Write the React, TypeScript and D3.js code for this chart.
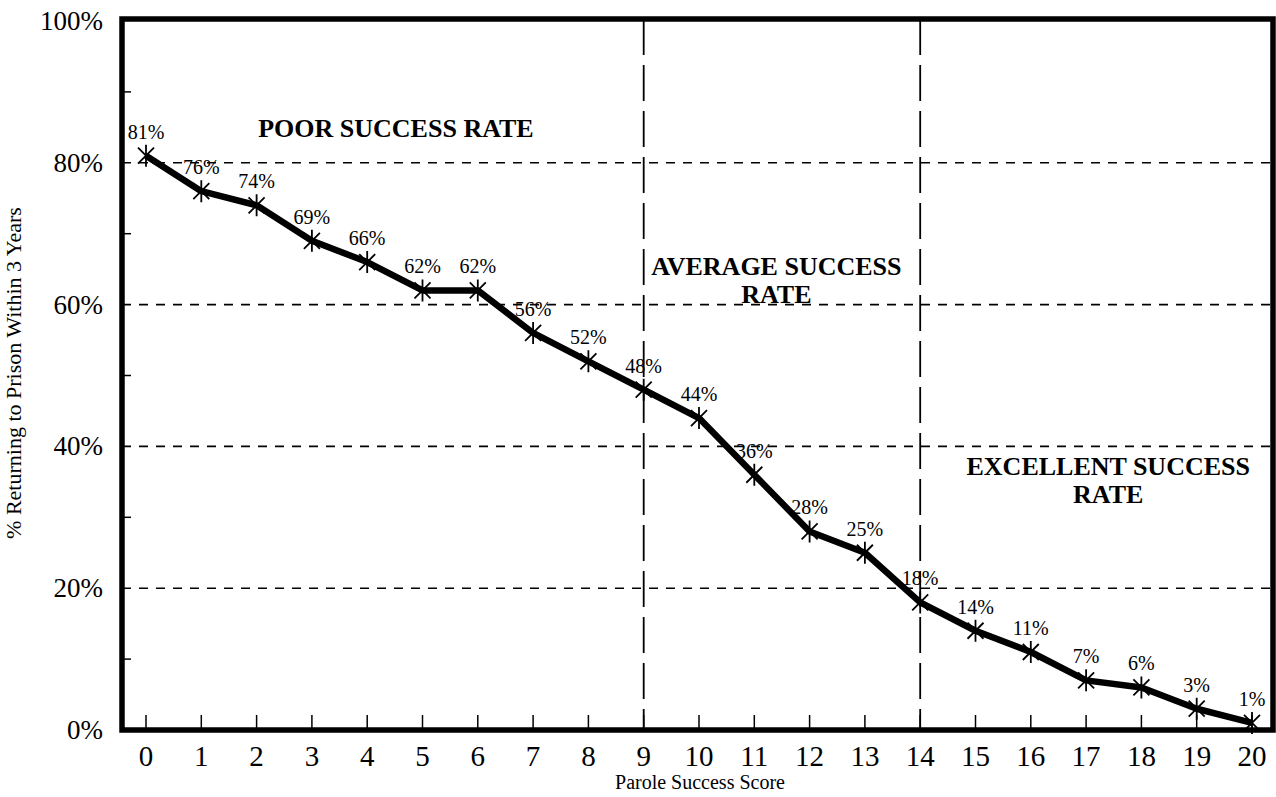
import * as d3 from 'd3';
import { useRef, useEffect } from 'react';

const scores = d3.range(0, 21);
const rates = [81, 76, 74, 69, 66, 62, 62, 56, 52, 48, 44, 36, 28, 25, 18, 14, 11, 7, 6, 3, 1];
const yTicks = [0, 20, 40, 60, 80, 100];
const yMinorTicks = [10, 30, 50, 70, 90];
const zoneBreaks = [9, 14];
const zoneLabels = [
  { lines: ['POOR SUCCESS RATE'], x: 4.52, y: 83.6 },
  { lines: ['AVERAGE SUCCESS', 'RATE'], x: 11.4, y: 64.2 },
  { lines: ['EXCELLENT SUCCESS', 'RATE'], x: 17.4, y: 36.0 },
];

const W = 1276;
const H = 797;
const FONT = '"Liberation Serif", "Times New Roman", serif';

const App = () => {
  const ref = useRef<SVGSVGElement>(null);

  useEffect(() => {
    const svg = d3.select(ref.current);
    svg.selectAll('*').remove();

    const frame = { left: 122, right: 1273, top: 19, bottom: 730 };
    const x = d3.scaleLinear().domain([0, 20]).range([146, 1252]);
    const y = d3.scaleLinear().domain([0, 100]).range([730, 21]);

    svg.append('rect').attr('width', W).attr('height', H).attr('fill', '#fff');

    // horizontal dashed grid lines
    svg
      .append('g')
      .selectAll('line')
      .data(yTicks.filter((d) => d > 0 && d < 100))
      .join('line')
      .attr('x1', frame.left)
      .attr('x2', frame.right)
      .attr('y1', (d) => y(d))
      .attr('y2', (d) => y(d))
      .attr('stroke', '#000')
      .attr('stroke-width', 1.6)
      .attr('stroke-dasharray', '9 8');

    // vertical zone separators
    svg
      .append('g')
      .selectAll('line')
      .data(zoneBreaks)
      .join('line')
      .attr('x1', (d) => x(d))
      .attr('x2', (d) => x(d))
      .attr('y1', frame.top)
      .attr('y2', frame.bottom)
      .attr('stroke', '#000')
      .attr('stroke-width', 1.8)
      .attr('stroke-dasharray', '36 10');

    // minor ticks on y axis
    svg
      .append('g')
      .selectAll('line')
      .data(yMinorTicks)
      .join('line')
      .attr('x1', frame.left)
      .attr('x2', frame.left + 9)
      .attr('y1', (d) => y(d))
      .attr('y2', (d) => y(d))
      .attr('stroke', '#000')
      .attr('stroke-width', 1.5);

    // x ticks inside the frame
    svg
      .append('g')
      .selectAll('line')
      .data(scores)
      .join('line')
      .attr('x1', (d) => x(d))
      .attr('x2', (d) => x(d))
      .attr('y1', frame.bottom)
      .attr('y2', frame.bottom - 15)
      .attr('stroke', '#000')
      .attr('stroke-width', 1.5);

    // frame
    svg
      .append('rect')
      .attr('x', frame.left)
      .attr('y', frame.top)
      .attr('width', frame.right - frame.left)
      .attr('height', frame.bottom - frame.top)
      .attr('fill', 'none')
      .attr('stroke', '#000')
      .attr('stroke-width', 5.5);

    // y tick labels
    svg
      .append('g')
      .selectAll('text')
      .data(yTicks)
      .join('text')
      .attr('x', 103)
      .attr('y', (d) => y(d))
      .attr('dy', '0.33em')
      .attr('text-anchor', 'end')
      .style('font-family', FONT)
      .style('font-size', '27px')
      .text((d) => `${d}%`);

    // x tick labels
    svg
      .append('g')
      .selectAll('text')
      .data(scores)
      .join('text')
      .attr('x', (d) => x(d))
      .attr('y', 766)
      .attr('text-anchor', 'middle')
      .style('font-family', FONT)
      .style('font-size', '29px')
      .text((d) => d);

    // axis titles
    svg
      .append('text')
      .attr('x', 700)
      .attr('y', 789)
      .attr('text-anchor', 'middle')
      .style('font-family', FONT)
      .style('font-size', '20px')
      .text('Parole Success Score');

    svg
      .append('text')
      .attr('transform', `translate(21, 373) rotate(-90)`)
      .attr('text-anchor', 'middle')
      .style('font-family', FONT)
      .style('font-size', '22px')
      .text('% Returning to Prison Within 3 Years');

    // zone labels
    zoneLabels.forEach((z) => {
      z.lines.forEach((ln, i) => {
        svg
          .append('text')
          .attr('x', x(z.x))
          .attr('y', y(z.y) + i * 28)
          .attr('text-anchor', 'middle')
          .style('font-family', FONT)
          .style('font-weight', 'bold')
          .style('font-size', '26px')
          .text(ln);
      });
    });

    // data line
    const line = d3
      .line<number>()
      .x((_, i) => x(scores[i]))
      .y((d) => y(d));

    svg
      .append('path')
      .datum(rates)
      .attr('d', line)
      .attr('fill', 'none')
      .attr('stroke', '#000')
      .attr('stroke-width', 6.5)
      .attr('stroke-linejoin', 'round');

    // markers
    svg
      .append('g')
      .selectAll('path')
      .data(rates)
      .join('path')
      .attr('transform', (d, i) => `translate(${x(scores[i])},${y(d)})`)
      .attr('d', 'M-8,-8L8,8M8,-8L-8,8M0,-11L0,11')
      .attr('stroke', '#000')
      .attr('stroke-width', 1.8);

    // value labels
    svg
      .append('g')
      .selectAll('text')
      .data(rates)
      .join('text')
      .attr('x', (d, i) => x(scores[i]))
      .attr('y', (d) => y(d) - 17)
      .attr('text-anchor', 'middle')
      .style('font-family', FONT)
      .style('font-size', '20px')
      .text((d) => `${d}%`);
  }, []);

  return (
    <svg
      ref={ref}
      width={W}
      height={H}
      style={{ position: 'absolute', left: 0, top: 0, display: 'block' }}
    />
  );
};

export default App;
